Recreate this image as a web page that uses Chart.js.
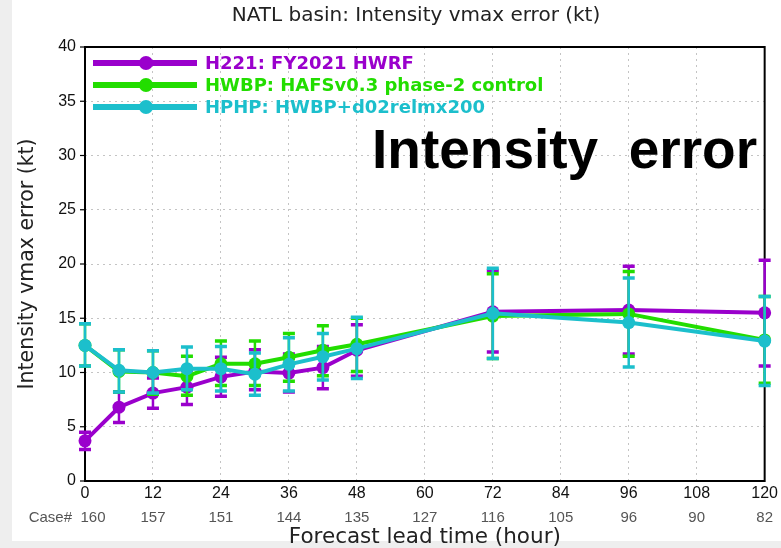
<!DOCTYPE html>
<html>
<head>
<meta charset="utf-8">
<script src="https://cdn.jsdelivr.net/npm/chart.js@4"></script>
<style>
  html, body { margin: 0; padding: 0; background: #eeeeee; }
  #wrap { position: absolute; left: 0; top: 0; width: 781px; height: 548px; }
  #paper { position: absolute; left: 12px; top: 0; width: 769px; height: 541px; background: #ffffff; }
  canvas { position: absolute; left: 0; top: 0; }
</style>
</head>
<body>
<div id="wrap">
  <div id="paper"></div>
  <canvas id="chart" width="781" height="548"></canvas>
</div>
<script>
// forecast hours with verification
const hours = [0, 6, 12, 18, 24, 30, 36, 42, 48, 72, 96, 120];

// H221: FY2021 HWRF
const h221Mean = [3.7, 6.8, 8.1, 8.65, 9.6, 10.1, 9.95, 10.45, 12.05, 15.6, 15.75, 15.5];
const h221Low  = [2.9, 5.4, 6.7, 7.05, 7.8, 8.4, 8.2, 8.5, 9.65, 11.9, 11.7, 10.6];
const h221High = [4.5, 8.2, 9.5, 10.2, 11.4, 12.1, 11.7, 12.4, 14.4, 19.4, 19.8, 20.35];

// HWBP: HAFSv0.3 phase-2 control
const hwbpMean = [12.5, 10.1, 10.0, 9.65, 10.8, 10.8, 11.4, 12.05, 12.6, 15.2, 15.4, 13.0];
const hwbpLow  = [10.6, 8.2, 8.0, 7.9, 8.8, 8.8, 9.2, 9.7, 10.1, 11.3, 11.5, 9.0];
const hwbpHigh = [14.5, 12.1, 12.0, 11.5, 12.9, 12.9, 13.6, 14.3, 15.0, 19.1, 19.3, 17.0];

// HPHP: HWBP+d02relmx200
const hphpMean = [12.5, 10.2, 10.0, 10.35, 10.35, 9.85, 10.75, 11.45, 12.2, 15.45, 14.6, 12.9];
const hphpLow  = [10.6, 8.2, 8.1, 8.4, 8.3, 7.9, 8.3, 9.3, 9.45, 11.3, 10.5, 8.8];
const hphpHigh = [14.5, 12.1, 12.0, 12.35, 12.4, 11.8, 13.2, 13.6, 15.1, 19.6, 18.7, 17.0];

// number of cases under the x axis
const caseHours  = [0, 12, 24, 36, 48, 60, 72, 84, 96, 108, 120];
const caseCounts = [160, 157, 151, 144, 135, 127, 116, 105, 96, 90, 82];

const PURPLE = '#9a00cc';
const GREEN = '#22dd00';
const TEAL = '#1cbfcc';

function pts(ys) {
    return hours.map((h, i) => ({ x: h, y: ys[i] }));
}

function series(label, color, mean, low, high, order) {
    return {
        label: label,
        data: pts(mean),
        errLow: low,
        errHigh: high,
        borderColor: color,
        backgroundColor: color,
        borderWidth: 4,
        pointRadius: 6.5,
        pointBorderWidth: 0,
        pointHoverRadius: 6.5,
        tension: 0,
        clip: false,
        order: order
    };
}

// error bars, drawn right before each series so the layering follows the series
const errorBars = {
    id: 'errorBars',
    beforeDatasetDraw(chart, args) {
        const ds = chart.data.datasets[args.index];
        const y = chart.scales.y;
        const ctx = chart.ctx;
        ctx.save();
        ctx.strokeStyle = ds.borderColor;
        args.meta.data.forEach((pt, i) => {
            const yl = y.getPixelForValue(ds.errLow[i]);
            const yh = y.getPixelForValue(ds.errHigh[i]);
            ctx.lineWidth = 2.5;
            ctx.beginPath();
            ctx.moveTo(pt.x, yl);
            ctx.lineTo(pt.x, yh);
            ctx.stroke();
            ctx.lineWidth = 3.5;
            ctx.beginPath();
            ctx.moveTo(pt.x - 6, yl); ctx.lineTo(pt.x + 6, yl);
            ctx.moveTo(pt.x - 6, yh); ctx.lineTo(pt.x + 6, yh);
            ctx.stroke();
        });
        ctx.restore();
    }
};

// black frame + y tick marks
const frame = {
    id: 'frame',
    beforeDatasetsDraw(chart) {
        const a = chart.chartArea;
        const ctx = chart.ctx;
        ctx.save();
        ctx.strokeStyle = '#000';
        ctx.lineWidth = 2;
        ctx.strokeRect(a.left, a.top, a.right - a.left, a.bottom - a.top);
        ctx.lineWidth = 1.2;
        chart.scales.y.ticks.forEach(t => {
            const py = chart.scales.y.getPixelForValue(t.value);
            ctx.beginPath();
            ctx.moveTo(a.left - 5, py);
            ctx.lineTo(a.left, py);
            ctx.stroke();
        });
        ctx.restore();
    }
};

// title, Case# row, legend and the slide caption
const extras = {
    id: 'extras',
    afterDraw(chart) {
        const ctx = chart.ctx;
        const x = chart.scales.x;
        ctx.save();
        ctx.textBaseline = 'middle';
        ctx.textAlign = 'center';
        ctx.fillStyle = '#222';
        ctx.font = '20px "DejaVu Sans", sans-serif';
        ctx.fillText('NATL basin: Intensity vmax error (kt)', 416, 16);

        ctx.font = '15px "Liberation Sans Narrow", "Liberation Sans", sans-serif';
        ctx.fillStyle = '#555';
        ctx.textAlign = 'right';
        ctx.fillText('Case#', 72, 518);
        ctx.textAlign = 'center';
        caseHours.forEach((h, i) => {
            let px = x.getPixelForValue(h);
            if (i === 0) px += 8;
            ctx.fillText(String(caseCounts[i]), px, 518);
        });

        // legend
        ctx.textAlign = 'left';
        ctx.font = 'bold 18px "DejaVu Sans", sans-serif';
        chart.data.datasets.forEach((ds, i) => {
            const ly = 63 + 22 * i;
            ctx.strokeStyle = ds.borderColor;
            ctx.fillStyle = ds.borderColor;
            ctx.lineWidth = 6;
            ctx.beginPath();
            ctx.moveTo(93, ly);
            ctx.lineTo(197, ly);
            ctx.stroke();
            ctx.beginPath();
            ctx.arc(146, ly, 7, 0, Math.PI * 2);
            ctx.fill();
            ctx.fillText(ds.label, 205, ly + 1);
        });

        // overlay caption
        ctx.fillStyle = '#000';
        ctx.textBaseline = 'alphabetic';
        ctx.font = 'bold 55px "Liberation Sans", Arial, sans-serif';
        ctx.fillText('Intensity  error', 372, 168);
        ctx.restore();
    }
};

const tickFont = { family: '"Liberation Sans Narrow", "Liberation Sans", sans-serif', size: 16 };

new Chart(document.getElementById('chart'), {
    type: 'line',
    data: {
        datasets: [
            series('H221: FY2021 HWRF', PURPLE, h221Mean, h221Low, h221High, 3),
            series('HWBP: HAFSv0.3 phase-2 control', GREEN, hwbpMean, hwbpLow, hwbpHigh, 2),
            series('HPHP: HWBP+d02relmx200', TEAL, hphpMean, hphpLow, hphpHigh, 1)
        ]
    },
    options: {
        responsive: false,
        animation: false,
        layout: { padding: { left: 0, right: 13, top: 47, bottom: 0 } },
        scales: {
            x: {
                type: 'linear',
                min: 0,
                max: 120,
                ticks: { stepSize: 12, color: '#111', font: tickFont, padding: 3 },
                grid: { color: '#c4c4c4', lineWidth: 1, drawTicks: false },
                border: { display: false, dash: [2, 4] },
                title: {
                    display: true,
                    text: 'Forecast lead time (hour)',
                    color: '#222',
                    font: { family: '"DejaVu Sans", sans-serif', size: 21.5, lineHeight: 1 },
                    padding: { top: 0, bottom: 0 }
                },
                afterFit(scale) { scale.height = 67; }
            },
            y: {
                min: 0,
                max: 40,
                ticks: { stepSize: 5, color: '#111', font: tickFont, padding: 9 },
                grid: { color: '#c4c4c4', lineWidth: 1, drawTicks: false },
                border: { display: false, dash: [2, 4] },
                title: {
                    display: true,
                    text: 'Intensity vmax error (kt)',
                    color: '#222',
                    font: { family: '"DejaVu Sans", sans-serif', size: 20.5 },
                    padding: { top: 15, bottom: 0 }
                },
                afterFit(scale) { scale.width = 85; }
            }
        },
        plugins: {
            legend: { display: false },
            tooltip: { enabled: false },
            title: { display: false }
        }
    },
    plugins: [errorBars, frame, extras]
});
</script>
</body>
</html>
